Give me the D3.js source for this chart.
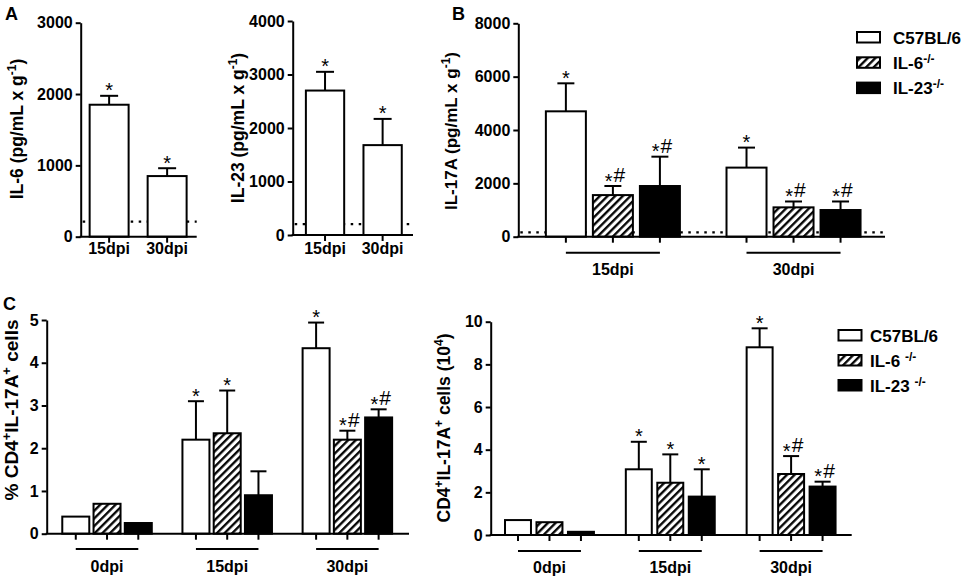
<!DOCTYPE html>
<html>
<head>
<meta charset="utf-8">
<script src="https://cdn.jsdelivr.net/npm/d3@7"></script>
<style>
  body { margin: 0; background: #fff; }
  svg { display: block; font-family: "Liberation Sans", Arial, sans-serif; }
</style>
</head>
<body>
<svg id="fig" width="965" height="579"></svg>
<script>
// ---- data ----
const strains = ["C57BL/6", "IL-6", "IL-23"];

// panel A
const aDays = ["15dpi", "30dpi"];
const il6Mean = [1850, 850];
const il6Sem = [125, 110];
const il6Marks = ["*", "*"];
const il6Ticks = [0, 1000, 2000, 3000];
const il23Mean = [2700, 1680];
const il23Sem = [350, 490];
const il23Marks = ["*", "*"];
const il23Ticks = [0, 1000, 2000, 3000, 4000];

// panel B (rows = days, cols = strains)
const bDays = ["15dpi", "30dpi"];
const il17Mean = [[4700, 1560, 1900], [2590, 1100, 1000]];
const il17Sem = [[1050, 340, 1100], [750, 220, 320]];
const il17Marks = [["*", "*#", "*#"], ["*", "*#", "*#"]];
const il17Ticks = [0, 2000, 4000, 6000, 8000];

// panel C
const cDays = ["0dpi", "15dpi", "30dpi"];
const pctMean = [[0.40, 0.70, 0.25], [2.20, 2.35, 0.90], [4.34, 2.20, 2.72]];
const pctSem = [[0, 0, 0], [0.90, 1.00, 0.56], [0.60, 0.21, 0.19]];
const pctMarks = [["", "", ""], ["*", "*", ""], ["*", "*#", "*#"]];
const pctTicks = [0, 1, 2, 3, 4, 5];
const cntMean = [[0.70, 0.60, 0.15], [3.08, 2.45, 1.80], [8.80, 2.86, 2.27]];
const cntSem = [[0, 0, 0], [1.29, 1.33, 1.28], [0.89, 0.84, 0.23]];
const cntMarks = [["", "", ""], ["*", "*", "*"], ["*", "*#", "*#"]];
const cntTicks = [0, 2, 4, 6, 8, 10];

const svg = d3.select("#fig");

// hatch pattern for IL-6-/-
const pat = svg.append("defs").append("pattern")
  .attr("id", "hatch")
  .attr("patternUnits", "userSpaceOnUse")
  .attr("width", 5.4).attr("height", 5.4)
  .attr("patternTransform", "rotate(45)");
pat.append("rect").attr("width", 5.4).attr("height", 5.4).attr("fill", "#fff");
pat.append("line").attr("x1", 1.2).attr("x2", 1.2).attr("y1", 0).attr("y2", 5.4)
  .attr("stroke", "#000").attr("stroke-width", 2.3);

const fills = ["#fff", "url(#hatch)", "#000"];

// append text parts, [string, isSuperscript]
function richText(sel, parts, supSize, lift) {
  let up = false;
  const d = lift || 6;
  parts.forEach(([t, sup]) => {
    const ts = sel.append("tspan").text(t);
    if (sup && !up) { ts.attr("dy", -d).attr("font-size", supSize || 11); up = true; }
    else if (sup) ts.attr("font-size", supSize || 11);
    else if (up) { ts.attr("dy", d); up = false; }
  });
}

function drawPanel(p) {
  const g = svg.append("g");
  const y = d3.scaleLinear().domain([0, p.yMax]).range([p.yBottom, p.yTop]);
  const x = d3.scaleBand().domain(p.days).range([p.x0, p.x1])
    .paddingInner(p.pi).paddingOuter(p.po).align(p.align);
  const xs = d3.scaleBand().domain(p.series).range([0, x.bandwidth()])
    .paddingInner(p.pis || 0);

  // detection limit
  if (p.limit) {
    g.append("line")
      .attr("x1", p.x0 + 2).attr("x2", p.x1)
      .attr("y1", y(p.limit)).attr("y2", y(p.limit))
      .attr("stroke", "#000").attr("stroke-width", 2.2)
      .attr("stroke-dasharray", "2.5,5.5");
  }

  p.days.forEach((day, i) => {
    const gx = x(day);
    const centers = [];
    p.series.forEach((s, j) => {
      const v = p.mean[i][j], e = p.sem[i][j], m = p.marks[i][j];
      const bx = gx + xs(s), bw = xs.bandwidth(), cx = bx + bw / 2;
      centers.push(cx);
      g.append("rect")
        .attr("x", bx).attr("y", y(v))
        .attr("width", bw).attr("height", y(0) - y(v))
        .attr("fill", p.series.length > 1 ? fills[j] : "#fff")
        .attr("stroke", "#000").attr("stroke-width", 2);
      let topY = y(v);
      if (e > 0) {
        topY = y(v + e);
        g.append("line").attr("x1", cx).attr("x2", cx).attr("y1", y(v)).attr("y2", topY)
          .attr("stroke", "#000").attr("stroke-width", 2);
        g.append("line").attr("x1", cx - p.cap).attr("x2", cx + p.cap).attr("y1", topY).attr("y2", topY)
          .attr("stroke", "#000").attr("stroke-width", 2);
      }
      if (m) {
        const t = g.append("text")
          .attr("x", cx + (m.length > 1 ? 2 : 0)).attr("y", topY + 1.5)
          .attr("text-anchor", "middle").attr("font-size", 20);
        t.append("tspan").text("*");
        if (m.length > 1) t.append("tspan").attr("dx", 1).attr("dy", -5.5).attr("font-size", 21).text("#");
      }
      // x tick under bar
      g.append("line").attr("x1", cx).attr("x2", cx).attr("y1", y(0)).attr("y2", y(0) + 6)
        .attr("stroke", "#000").attr("stroke-width", 2);
    });
    const mid = (centers[0] + centers[centers.length - 1]) / 2;
    if (centers.length > 1) {
      g.append("line")
        .attr("x1", centers[0]).attr("x2", centers[centers.length - 1])
        .attr("y1", p.underY).attr("y2", p.underY)
        .attr("stroke", "#000").attr("stroke-width", 2);
    }
    g.append("text").attr("x", mid).attr("y", p.labelY)
      .attr("text-anchor", "middle").attr("font-size", 16).attr("font-weight", "bold")
      .text(day);
  });

  // x axis line
  g.append("line").attr("x1", p.x0 - 1).attr("x2", p.x1)
    .attr("y1", y(0)).attr("y2", y(0))
    .attr("stroke", "#000").attr("stroke-width", 2);

  // y axis
  const ya = g.append("g").attr("transform", `translate(${p.x0},0)`)
    .call(d3.axisLeft(y).tickValues(p.ticks).tickFormat(d3.format("d"))
      .tickSize(5).tickSizeOuter(0).tickPadding(3));
  ya.select(".domain").attr("stroke-width", 2);
  ya.selectAll(".tick line").attr("stroke-width", 2);
  ya.selectAll(".tick text").attr("font-size", 16).attr("font-weight", "bold")
    .attr("fill", "#000").attr("font-family", null);

  // y title
  const yt = g.append("text")
    .attr("transform", `translate(${p.titleX},${p.titleY}) rotate(-90)`)
    .attr("text-anchor", "middle").attr("font-size", p.titleSize).attr("font-weight", "bold");
  richText(yt, p.title, Math.round(p.titleSize * 0.68), 7);
}

function drawLegend(x, y0, step, tx, supGap) {
  strains.forEach((s, j) => {
    svg.append("rect").attr("x", x).attr("y", y0 + j * step)
      .attr("width", 23).attr("height", 10.5)
      .attr("fill", fills[j]).attr("stroke", "#000").attr("stroke-width", 2);
    const t = svg.append("text").attr("x", tx).attr("y", y0 + j * step + 11.5)
      .attr("font-size", 17).attr("font-weight", "bold");
    if (j === 0) t.text(s);
    else richText(t, [[s + supGap, false], ["-/-", true]], 12, 6);
  });
}

function panelLetter(ch, x, y) {
  svg.append("text").attr("x", x).attr("y", y)
    .attr("font-size", 18).attr("font-weight", "bold").text(ch);
}

// ---- panel A ----
drawPanel({
  days: aDays, series: ["C57BL/6"],
  mean: il6Mean.map(v => [v]), sem: il6Sem.map(v => [v]), marks: il6Marks.map(v => [v]),
  yMax: 3000, ticks: il6Ticks, yBottom: 236.7, yTop: 22.7,
  x0: 80.7, x1: 196.7, pi: 0.328, po: 0.164, align: 0.47,
  cap: 9, limit: 210, labelY: 254,
  titleX: 23, titleY: 129, titleSize: 17.5,
  title: [["IL-6 (pg/mL x g", false], ["-1", true], [")", false]]
});
drawPanel({
  days: aDays, series: ["C57BL/6"],
  mean: il23Mean.map(v => [v]), sem: il23Sem.map(v => [v]), marks: il23Marks.map(v => [v]),
  yMax: 4000, ticks: il23Ticks, yBottom: 235, yTop: 21,
  x0: 292.7, x1: 413, pi: 0.335, po: 0.212, align: 0.54,
  cap: 9, limit: 205, labelY: 254,
  titleX: 244, titleY: 128, titleSize: 17.5,
  title: [["IL-23 (pg/mL x g", false], ["-1", true], [")", false]]
});
panelLetter("A", 5, 20);

// ---- panel B ----
drawPanel({
  days: bDays, series: strains,
  mean: il17Mean, sem: il17Sem, marks: il17Marks,
  yMax: 8000, ticks: il17Ticks, yBottom: 236.7, yTop: 23.3,
  x0: 518.3, x1: 885, pi: 0.258, po: 0.144, align: 0.53, pis: 0.149,
  cap: 8.5, limit: 165, underY: 252.7, labelY: 275,
  titleX: 457, titleY: 131, titleSize: 17,
  title: [["IL-17A (pg/mL x g", false], ["-1", true], [")", false]]
});
panelLetter("B", 452, 20);
drawLegend(857, 32, 25.3, 893, "");

// ---- panel C ----
drawPanel({
  days: cDays, series: strains,
  mean: pctMean, sem: pctSem, marks: pctMarks,
  yMax: 5, ticks: pctTicks, yBottom: 533.7, yTop: 320,
  x0: 46.7, x1: 409, pi: 0.255, po: 0.135, align: 0.48, pis: 0.136,
  cap: 8, underY: 549, labelY: 572,
  titleX: 18, titleY: 410, titleSize: 19,
  title: [["% CD4", false], ["+", true], ["IL-17A", false], ["+", true], [" cells", false]]
});
drawPanel({
  days: cDays, series: strains,
  mean: cntMean, sem: cntSem, marks: cntMarks,
  yMax: 10, ticks: cntTicks, yBottom: 535, yTop: 321.7,
  x0: 490.7, x1: 851.7, pi: 0.264, po: 0.126, align: 0.47, pis: 0.175,
  cap: 8, underY: 551, labelY: 573,
  titleX: 450, titleY: 428, titleSize: 17.5,
  title: [["CD4", false], ["+", true], ["IL-17A", false], ["+", true], [" cells (10", false], ["4", true], [")", false]]
});
panelLetter("C", 3, 310);
drawLegend(838.5, 330, 25, 870, " ");
</script>
</body>
</html>
